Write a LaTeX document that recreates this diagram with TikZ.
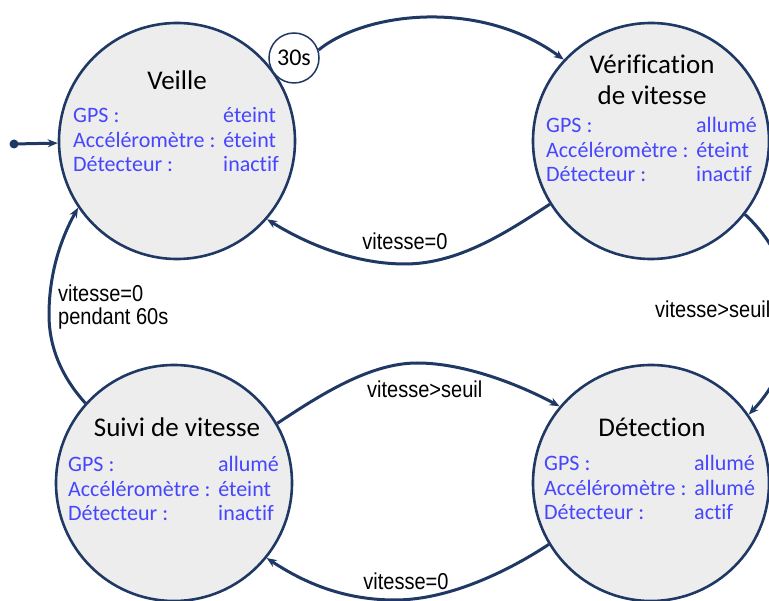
\documentclass[tikz,border=0pt]{standalone}
\usepackage{fontspec}
\setmainfont{Carlito}[Ligatures=NoCommon]
\newfontfamily\lblfont[FakeStretch=0.87]{Liberation Sans}
\usetikzlibrary{arrows.meta}
\definecolor{navy}{RGB}{31,56,100}
\definecolor{stategray}{RGB}{237,237,237}
\definecolor{infoblue}{RGB}{70,70,255}
% three status lines of a state: label column, then value column
\newcommand\inforows[3]{%
  \begin{tabular}[t]{@{}l@{}}
    \makebox[150pt][l]{GPS :}#1\\
    \makebox[150pt][l]{Accéléromètre :}#2\\
    \makebox[150pt][l]{Détecteur :}#3
  \end{tabular}}
\begin{document}
\begin{tikzpicture}[x=1pt,y=-1pt,
  state/.style={circle,draw=navy,line width=2.6pt,fill=stategray,
    minimum size=236pt,inner sep=0pt},
  timer/.style={circle,draw=navy,line width=1.5pt,fill=white,
    minimum size=50pt,inner sep=0pt,font=\fontsize{24}{28}\selectfont},
  title/.style={anchor=base,inner sep=0pt,text=black,
    font=\fontsize{27}{31}\selectfont},
  info/.style={anchor=base west,inner sep=0pt,text=infoblue,
    font=\fontsize{22}{24.5}\selectfont},
  lbl/.style={inner sep=0pt,text=black,font=\lblfont\fontsize{23}{23}\selectfont},
  trans/.style={draw=navy,line width=3pt,-{Stealth[length=10pt,width=8pt]}},
]
\useasboundingbox (0,0) rectangle (769,601);
\clip (0,0) rectangle (769,601);

% states
\node[state] (veille) at (177,141) {};
\node[state] (verif)  at (651,141) {};
\node[state] (suivi)  at (174,483) {};
\node[state] (detect) at (651,483) {};

% timer on the standby state
\node[timer] (t30) at (294,58) {30s};

% state titles
\node[title] (tveille) at (177,90) {Veille};
\node[title] (tverif)  at (652,74) {\begin{tabular}[t]{@{}c@{}}Vérification\\de vitesse\end{tabular}};
\node[title] (tsuivi)  at (177,437) {Suivi de vitesse};
\node[title] (tdetect) at (652,437) {Détection};

% state contents
\node[info] (iveille) at (73,123)  {\inforows{éteint}{éteint}{inactif}};
\node[info] (iverif)  at (546,133) {\inforows{allumé}{éteint}{inactif}};
\node[info] (isuivi)  at (68,472)  {\inforows{allumé}{éteint}{inactif}};
\node[info] (idetect) at (544,471) {\inforows{allumé}{allumé}{actif}};

% initial transition
\coordinate (init) at (14,144);
\fill[navy] (init) circle (4.5pt);
\draw[trans] (init) -- (veille.181.5);

% transitions
\draw[trans] (t30.18) .. controls (365,12) and (480,-2) .. (verif.137.4);
\draw[trans] (verif.212.4) .. controls (510,230) and (460,264) .. (405,264)
  .. controls (350,264) and (300,240) .. (veille.-41.3);
\draw[trans] (verif.-38.2) .. controls (805,270) and (805,355) .. (detect.35.6);
\draw[trans] (suivi.30.6) .. controls (320,395) and (370,363) .. (417,363)
  .. controls (465,363) and (520,385) .. (detect.140.5);
\draw[trans] (detect.211.5) .. controls (510,570) and (450,600) .. (395,600)
  .. controls (340,600) and (300,580) .. (suivi.-39.3);
\draw[trans] (suivi.138.7) .. controls (60,375) and (49,345) .. (49,315)
  .. controls (49,275) and (60,240) .. (veille.-146.6);

% transition labels
\node[lbl,anchor=base] (lzero1) at (405,250) {vitesse=0};
\node[lbl,anchor=base west] (lseuil1) at (655,318) {vitesse>seuil};
\node[lbl,anchor=base west] (lseuil2) at (367,398) {vitesse>seuil};
\node[lbl,anchor=base] (lzero2) at (406,589) {vitesse=0};
\node[lbl,anchor=base west] (lzero3a) at (58,302) {vitesse=0};
\node[lbl,anchor=base west] (lzero3b) at (58,325) {pendant 60s};
\end{tikzpicture}
\end{document}
